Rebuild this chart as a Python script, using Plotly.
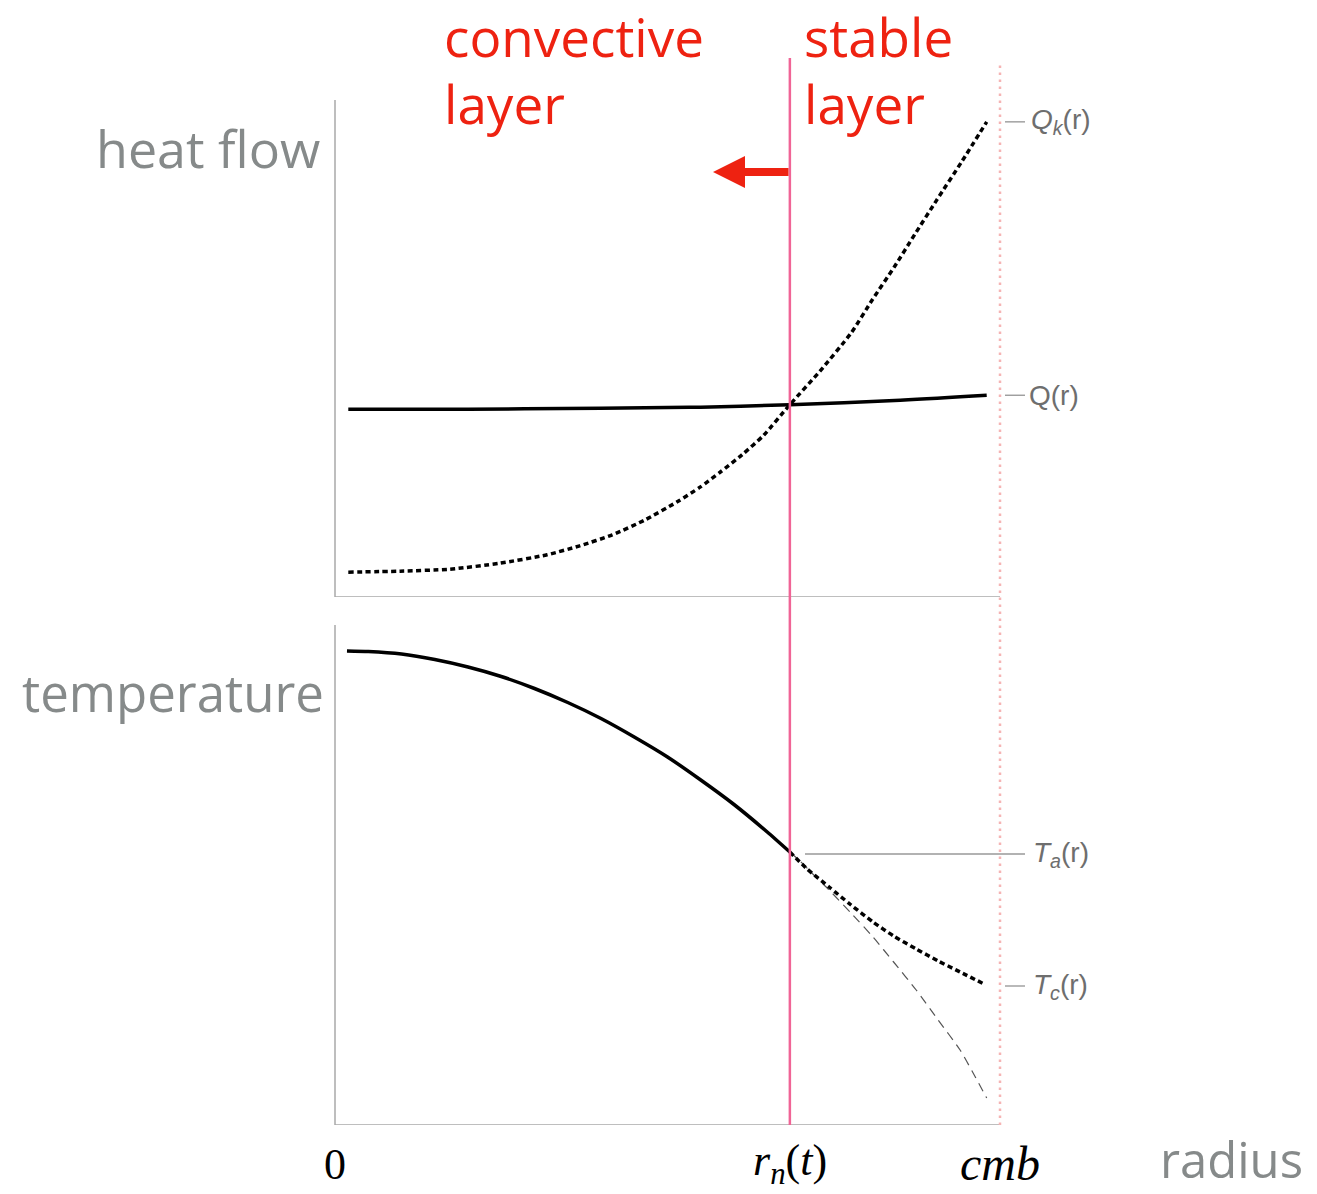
import plotly.graph_objects as go

# ---------------- data (arbitrary units) ----------------
# radius normalised so that 0 = centre, 1 = core-mantle boundary (cmb)
r_n = 0.684

# heat flow panel (0..100)
r_q = [0.02, 0.20, 0.40, 0.55, 0.684, 0.85, 0.98]
Q = [37.8, 37.8, 38.0, 38.2, 38.7, 39.6, 40.6]

r_qk = [0.020, 0.098, 0.173, 0.248, 0.319, 0.368, 0.417, 0.466, 0.514, 0.549, 0.580,
        0.612, 0.645, 0.684, 0.729, 0.776, 0.808, 0.841, 0.872, 0.905, 0.943, 0.980]
Qk = [5.0, 5.2, 5.6, 6.8, 8.5, 10.3, 12.5, 15.5, 19.1, 22.1, 25.2,
      28.6, 32.6, 38.7, 45.4, 53.1, 59.8, 66.4, 73.0, 79.9, 87.7, 95.6]

# temperature panel (0..100)
r_ta = [0.018, 0.05, 0.10, 0.15, 0.20, 0.25, 0.30, 0.35, 0.40, 0.45, 0.50, 0.55, 0.60, 0.65, 0.684]
Ta = [94.8, 94.7, 94.2, 93.1, 91.6, 89.7, 87.3, 84.5, 81.3, 77.6, 73.6, 69.0, 64.1, 58.6, 54.6]

r_tc = [0.684, 0.71, 0.743, 0.776, 0.809, 0.84, 0.874, 0.907, 0.94, 0.976]
Tc = [54.6, 51.2, 47.6, 44.0, 40.6, 37.8, 35.2, 32.8, 30.6, 28.2]

r_ext = [0.684, 0.70, 0.72, 0.743, 0.776, 0.809, 0.84, 0.874, 0.907, 0.94, 0.96, 0.98]
Ta_ext = [54.6, 52.7, 50.0, 47.0, 42.4, 37.6, 32.6, 27.0, 21.0, 15.0, 10.3, 5.4]

# ---------------- geometry helpers ----------------
W, H = 1317, 1194
X0, X1 = 335, 1000          # pixel positions of r=0 and r=cmb


def rx(px):
    return (px - X0) / (X1 - X0)


def py(p):
    return 1 - p / H


def pxp(p):
    return p / W


GRAY = "#868a8a"
RED = "#ee2211"
PINK = "#f06496"
LPINK = "#f5b4b4"
AX = "#a8a8a8"
LEAD = "#8a8a8a"
DOT = "5px,3.5px"

fig = go.Figure()

# heat flow curves
fig.add_trace(go.Scatter(x=r_q, y=Q, mode="lines", line=dict(color="black", width=3.5, shape="spline"),
                         xaxis="x", yaxis="y", hoverinfo="skip"))
fig.add_trace(go.Scatter(x=r_qk, y=Qk, mode="lines",
                         line=dict(color="black", width=3.5, dash=DOT, shape="spline", smoothing=0.6),
                         xaxis="x", yaxis="y", hoverinfo="skip"))

# temperature curves
fig.add_trace(go.Scatter(x=r_ext, y=Ta_ext, mode="lines",
                         line=dict(color="#555555", width=1.2, dash="9px,6px", shape="spline", smoothing=0.6),
                         xaxis="x", yaxis="y2", hoverinfo="skip"))
fig.add_trace(go.Scatter(x=r_ta, y=Ta, mode="lines",
                         line=dict(color="black", width=3.5, shape="spline", smoothing=0.6),
                         xaxis="x", yaxis="y2", hoverinfo="skip"))
fig.add_trace(go.Scatter(x=r_tc, y=Tc, mode="lines",
                         line=dict(color="black", width=3.5, dash=DOT, shape="spline", smoothing=0.6),
                         xaxis="x", yaxis="y2", hoverinfo="skip"))

shapes = []
# axis frames of both panels
for yr in ["y", "y2"]:
    shapes.append(dict(type="line", xref="x", yref=yr, x0=0, x1=0, y0=0, y1=100,
                       line=dict(color=AX, width=1.5)))
    shapes.append(dict(type="line", xref="x", yref=yr, x0=0, x1=1, y0=0, y1=0,
                       line=dict(color=AX, width=1.5)))

# cmb dotted line and r_n line
shapes.append(dict(type="line", xref="x", yref="paper", x0=1, x1=1, y0=py(1125), y1=py(62),
                   line=dict(color=LPINK, width=2.5, dash="2.5px,4.5px")))
shapes.append(dict(type="line", xref="x", yref="paper", x0=r_n, x1=r_n, y0=py(1125), y1=py(58),
                   line=dict(color=PINK, width=2.5)))

# leader lines for curve labels
shapes.append(dict(type="line", xref="x", yref="y", x0=rx(1005), x1=rx(1025), y0=Qk[-1], y1=Qk[-1],
                   line=dict(color=LEAD, width=1.2)))
shapes.append(dict(type="line", xref="x", yref="y", x0=rx(1005), x1=rx(1025), y0=Q[-1], y1=Q[-1],
                   line=dict(color=LEAD, width=1.2)))
shapes.append(dict(type="line", xref="x", yref="y2", x0=rx(805), x1=rx(1025), y0=54.2, y1=54.2,
                   line=dict(color="#666666", width=1.2)))
shapes.append(dict(type="line", xref="x", yref="y2", x0=rx(1005), x1=rx(1025), y0=Tc[-1] - 0.4, y1=Tc[-1] - 0.4,
                   line=dict(color=LEAD, width=1.2)))

ann = []
SANS = "Open Sans"
SERIF = "Liberation Serif"
LAB = "Liberation Sans"
LABC = "#6e6e6e"

# curve labels
ann.append(dict(x=rx(1029), y=Qk[-1], xref="x", yref="y", xanchor="left", yanchor="middle",
                text="<i>Q<sub>k</sub></i>(r)", showarrow=False, font=dict(family=LAB, size=28, color=LABC)))
ann.append(dict(x=rx(1027), y=Q[-1], xref="x", yref="y", xanchor="left", yanchor="middle",
                text="Q(r)", showarrow=False, font=dict(family=LAB, size=28, color=LABC)))
ann.append(dict(x=rx(1031), y=54.2, xref="x", yref="y2", xanchor="left", yanchor="middle",
                text="<i>T<sub>a</sub></i>(r)", showarrow=False, font=dict(family=LAB, size=28, color=LABC)))
ann.append(dict(x=rx(1031), y=Tc[-1] - 0.4, xref="x", yref="y2", xanchor="left", yanchor="middle",
                text="<i>T<sub>c</sub></i>(r)", showarrow=False, font=dict(family=LAB, size=28, color=LABC)))

# panel titles
ann.append(dict(x=pxp(322), y=py(147), xref="paper", yref="paper", xanchor="right", yanchor="middle",
                text="heat flow", showarrow=False, font=dict(family=SANS, size=52, color=GRAY)))
ann.append(dict(x=pxp(326), y=py(692), xref="paper", yref="paper", xanchor="right", yanchor="middle",
                text="temperature", showarrow=False, font=dict(family=SANS, size=51, color=GRAY)))
ann.append(dict(x=pxp(1304), y=py(1159), xref="paper", yref="paper", xanchor="right", yanchor="middle",
                text="radius", showarrow=False, borderpad=0, font=dict(family=SANS, size=49, color=GRAY)))

# radius tick labels
ann.append(dict(x=0, y=py(1164), xref="x", yref="paper", xanchor="center", yanchor="middle",
                text="0", showarrow=False, borderpad=0, font=dict(family=SERIF, size=44, color="black")))
ann.append(dict(x=r_n, y=py(1163), xref="x", yref="paper", xanchor="center", yanchor="middle",
                text="<i>r<sub>n</sub></i>(<i>t</i>)", showarrow=False, borderpad=0,
                font=dict(family=SERIF, size=44, color="black")))
ann.append(dict(x=1, y=py(1163), xref="x", yref="paper", xanchor="center", yanchor="middle",
                text="<i>cmb</i>", showarrow=False, borderpad=0, font=dict(family=SERIF, size=48, color="black")))

# layer labels
ann.append(dict(x=pxp(443), y=py(36), xref="paper", yref="paper", xanchor="left", yanchor="middle",
                text="convective", showarrow=False, borderpad=0, font=dict(family=SANS, size=53, color=RED)))
ann.append(dict(x=pxp(443), y=py(104), xref="paper", yref="paper", xanchor="left", yanchor="middle",
                text="layer", showarrow=False, borderpad=0, font=dict(family=SANS, size=53, color=RED)))
ann.append(dict(x=pxp(803), y=py(36), xref="paper", yref="paper", xanchor="left", yanchor="middle",
                text="stable", showarrow=False, borderpad=0, font=dict(family=SANS, size=53, color=RED)))
ann.append(dict(x=pxp(803), y=py(104), xref="paper", yref="paper", xanchor="left", yanchor="middle",
                text="layer", showarrow=False, borderpad=0, font=dict(family=SANS, size=53, color=RED)))

# arrow: boundary moving inward
ann.append(dict(x=rx(713), y=py(172), xref="x", yref="paper", text="", showarrow=True,
                ax=77, ay=0, axref="pixel", ayref="pixel",
                arrowhead=2, arrowsize=0.8, arrowwidth=8, arrowcolor=RED, standoff=0))

fig.update_layout(
    width=W, height=H,
    margin=dict(l=0, r=0, t=0, b=0),
    paper_bgcolor="white", plot_bgcolor="white",
    showlegend=False,
    xaxis=dict(domain=[0, 1], range=[rx(0), rx(W)], visible=False, fixedrange=True),
    yaxis=dict(domain=[py(597), py(100)], range=[0, 100], visible=False, anchor="x", fixedrange=True),
    yaxis2=dict(domain=[py(1125), py(625)], range=[0, 100], visible=False, anchor="x", fixedrange=True),
    shapes=shapes,
    annotations=ann,
)

fig.write_html("out.html")
